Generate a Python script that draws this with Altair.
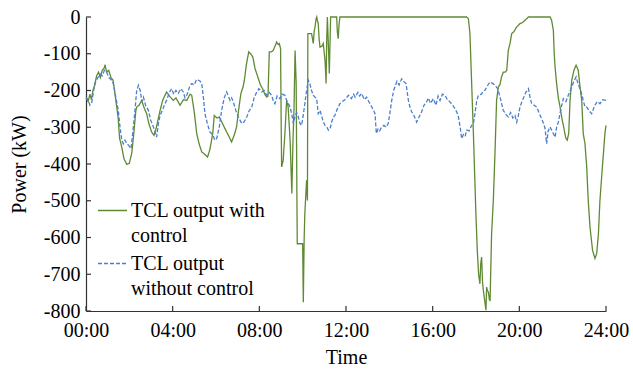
import altair as alt
import pandas as pd

# ---- data ----
with_hours = [0.00,0.10,0.18,0.25,0.32,0.40,0.49,0.58,0.66,0.75,0.83,0.88,0.95,1.05,1.15,1.25,1.35,1.48,1.55,1.65,1.75,1.88,2.00,2.11,2.20,2.30,2.34,2.45,2.57,2.70,2.80,2.90,3.03,3.14,3.25,3.42,3.55,3.72,3.85,4.03,4.15,4.34,4.50,4.65,4.80,4.88,5.00,5.11,5.22,5.34,5.45,5.61,5.72,5.85,5.92,6.05,6.15,6.30,6.49,6.60,6.72,6.85,6.95,7.05,7.15,7.25,7.31,7.40,7.51,7.60,7.70,7.80,7.93,8.05,8.15,8.25,8.34,8.40,8.46,8.55,8.64,8.72,8.80,8.87,8.92,8.98,9.01,9.03,9.10,9.18,9.26,9.33,9.42,9.50,9.55,9.60,9.65,9.70,9.73,9.75,10.00,10.03,10.07,10.10,10.18,10.22,10.24,10.41,10.49,10.53,10.57,10.62,10.65,10.68,10.72,10.76,10.80,10.88,10.95,11.00,11.03,11.06,11.08,11.11,11.14,11.20,11.23,11.27,11.29,11.57,11.60,11.64,11.68,11.72,17.57,17.65,17.72,17.80,17.88,17.95,18.00,18.06,18.12,18.18,18.22,18.26,18.30,18.34,18.42,18.46,18.49,18.53,18.57,18.62,18.65,18.72,18.80,18.88,18.95,19.03,19.10,19.18,19.26,19.35,19.42,19.49,19.57,19.65,19.75,19.88,20.03,20.15,20.26,20.42,21.42,21.49,21.57,21.61,21.65,21.72,21.80,21.88,21.98,22.05,22.10,22.15,22.21,22.28,22.34,22.42,22.52,22.62,22.72,22.80,22.88,22.95,23.03,23.11,23.18,23.26,23.38,23.49,23.57,23.65,23.72,23.80,23.88,23.95,24.00]
with_power = [-220,-230,-210,-225,-200,-185,-160,-150,-165,-145,-140,-130,-150,-145,-165,-172,-215,-272,-330,-354,-385,-401,-398,-371,-320,-255,-245,-240,-227,-250,-263,-290,-313,-322,-300,-254,-225,-204,-215,-227,-220,-240,-225,-227,-210,-213,-260,-317,-345,-367,-372,-381,-360,-317,-268,-275,-272,-290,-313,-325,-340,-320,-299,-250,-208,-190,-172,-130,-95,-100,-109,-140,-163,-185,-195,-210,-218,-215,-95,-95,-91,-80,-68,-75,-72,-86,-300,-408,-390,-317,-227,-245,-335,-480,-344,-250,-91,-181,-450,-617,-617,-776,-600,-535,-444,-499,-45,-45,-72,-40,-27,-5,0,-10,-18,-60,-82,-80,-72,-100,-118,-150,-181,-60,0,-100,-154,-50,0,0,-40,-59,-20,0,0,-5,-45,-181,-317,-450,-544,-635,-700,-726,-670,-653,-720,-744,-780,-798,-735,-745,-748,-770,-771,-590,-499,-363,-227,-190,-185,-163,-150,-150,-145,-91,-72,-45,-40,-27,-18,-15,-9,0,0,-9,-36,-100,-136,-181,-220,-245,-281,-300,-317,-330,-335,-317,-227,-172,-145,-131,-145,-190,-227,-317,-345,-408,-499,-571,-635,-657,-644,-590,-499,-435,-372,-317,-295]

without_hours = [0.00,0.10,0.18,0.26,0.35,0.45,0.57,0.65,0.75,0.85,0.95,1.05,1.15,1.26,1.35,1.49,1.57,1.65,1.72,1.80,1.88,1.98,2.08,2.15,2.26,2.34,2.42,2.50,2.58,2.65,2.75,2.88,2.98,3.11,3.18,3.26,3.34,3.42,3.55,3.65,3.72,3.85,3.95,4.05,4.15,4.26,4.38,4.49,4.57,4.65,4.78,4.88,5.00,5.10,5.19,5.27,5.34,5.42,5.49,5.60,5.72,5.85,5.95,6.03,6.15,6.26,6.38,6.49,6.57,6.65,6.72,6.80,6.92,7.03,7.10,7.19,7.30,7.42,7.53,7.65,7.76,7.88,7.98,8.11,8.22,8.34,8.45,8.57,8.65,8.72,8.82,8.95,9.05,9.18,9.28,9.42,9.50,9.57,9.65,9.72,9.80,9.88,9.95,10.02,10.10,10.18,10.26,10.33,10.41,10.49,10.57,10.65,10.72,10.80,10.88,10.95,11.03,11.12,11.19,11.26,11.34,11.42,11.49,11.60,11.72,11.80,11.95,12.11,12.25,12.35,12.42,12.55,12.63,12.72,12.85,12.95,13.05,13.19,13.28,13.34,13.40,13.48,13.55,13.65,13.75,13.85,13.95,14.03,14.11,14.20,14.26,14.35,14.45,14.57,14.65,14.77,14.88,14.95,15.03,15.15,15.26,15.35,15.49,15.60,15.72,15.80,15.90,16.03,16.15,16.25,16.34,16.45,16.57,16.68,16.80,16.92,17.03,17.12,17.19,17.27,17.34,17.42,17.50,17.57,17.68,17.80,17.88,17.95,18.03,18.11,18.25,18.35,18.42,18.55,18.65,18.75,18.88,19.00,19.11,19.20,19.26,19.38,19.49,19.60,19.70,19.80,19.88,19.95,20.03,20.12,20.18,20.30,20.42,20.50,20.57,20.68,20.80,20.92,21.03,21.12,21.19,21.26,21.33,21.42,21.55,21.65,21.72,21.80,21.92,22.03,22.15,22.26,22.35,22.42,22.52,22.62,22.70,22.80,22.88,22.95,23.03,23.11,23.22,23.34,23.42,23.49,23.60,23.72,23.85,24.00]
without_power = [-218,-225,-240,-235,-200,-175,-163,-155,-160,-145,-150,-165,-170,-181,-210,-254,-300,-335,-345,-335,-344,-350,-358,-320,-254,-200,-186,-200,-230,-218,-240,-254,-280,-299,-310,-327,-290,-268,-250,-235,-227,-205,-195,-210,-200,-208,-195,-204,-220,-213,-190,-181,-185,-170,-172,-175,-181,-220,-263,-290,-313,-320,-335,-331,-300,-254,-220,-204,-215,-227,-220,-231,-255,-272,-280,-290,-285,-272,-255,-245,-220,-204,-195,-204,-200,-213,-205,-213,-230,-236,-215,-222,-210,-213,-230,-245,-265,-290,-270,-260,-272,-290,-295,-270,-236,-200,-172,-181,-200,-213,-218,-225,-263,-254,-270,-285,-295,-300,-308,-305,-285,-272,-268,-250,-236,-231,-225,-213,-222,-210,-218,-205,-215,-208,-225,-218,-230,-245,-255,-263,-317,-305,-310,-299,-295,-300,-290,-260,-227,-200,-190,-175,-185,-168,-175,-181,-227,-245,-258,-270,-286,-275,-258,-240,-231,-220,-235,-222,-240,-215,-227,-210,-213,-225,-231,-240,-249,-260,-272,-300,-331,-320,-325,-308,-310,-295,-290,-263,-230,-213,-210,-200,-199,-185,-177,-180,-186,-195,-218,-240,-254,-265,-272,-260,-275,-268,-286,-270,-245,-230,-222,-205,-195,-220,-236,-240,-245,-262,-277,-290,-304,-345,-310,-299,-315,-327,-300,-286,-250,-222,-230,-213,-200,-190,-175,-163,-180,-195,-210,-227,-245,-245,-255,-263,-250,-240,-230,-236,-225,-227]

series_names = ["TCL output with|control", "TCL output|without control"]
series_colors = ["#5f8a33", "#4a7fcb"]
series_dashes = [[1, 0], [4, 2]]
x_ticks = [0, 4, 8, 12, 16, 20, 24]
y_ticks = [0, -100, -200, -300, -400, -500, -600, -700, -800]

rows = []
for i, (h, p) in enumerate(zip(with_hours, with_power)):
    rows.append({"hour": h, "power": p, "series": series_names[0], "order": i})
for i, (h, p) in enumerate(zip(without_hours, without_power)):
    rows.append({"hour": h, "power": p, "series": series_names[1], "order": i})
df = pd.DataFrame(rows)

FONT = "Liberation Serif"
W, H = 520, 294

xscale = alt.Scale(domain=[0, 24], nice=False, zero=False)
yscale = alt.Scale(domain=[-800, 0], nice=False)
xaxis = alt.Axis(values=x_ticks, title="Time", grid=False, tickSize=0,
                 labelExpr="(datum.value < 10 ? '0' : '') + datum.value + ':00'",
                 labelPadding=9, titlePadding=7, labelFlush=False, labelOverlap=False)
yaxis = alt.Axis(values=y_ticks, title="Power (kW)", grid=False, tickSize=0,
                 labelExpr="datum.value + ''", labelPadding=6, titlePadding=14,
                 labelOverlap=False)

lines = alt.Chart(df).mark_line(strokeWidth=1.3, interpolate="linear").encode(
    x=alt.X("hour:Q", scale=xscale, axis=xaxis),
    y=alt.Y("power:Q", scale=yscale, axis=yaxis),
    color=alt.Color("series:N", scale=alt.Scale(domain=series_names, range=series_colors), legend=None),
    strokeDash=alt.StrokeDash("series:N", scale=alt.Scale(domain=series_names, range=series_dashes),
                              legend=None),
    order="order:Q",
)

xt = pd.DataFrame({"hour": x_ticks})
yt = pd.DataFrame({"power": y_ticks})
xtick_rules = alt.Chart(xt).mark_rule(color="#333", strokeWidth=1.2).encode(
    x=alt.X("hour:Q", scale=xscale, axis=xaxis), y=alt.value(H - 5), y2=alt.value(H))
ytick_rules = alt.Chart(yt).mark_rule(color="#333", strokeWidth=1.2).encode(
    y=alt.Y("power:Q", scale=yscale, axis=yaxis), x=alt.value(0), x2=alt.value(5))

# ---- hand-built legend (symbol aligned with the first label line) ----
legend_layers = []
legend_rows_y = [193.5, 246.5]
for name, col, dash, ly in zip(series_names, series_colors, series_dashes, legend_rows_y):
    ldf = pd.DataFrame({"label": [name]})
    sym = alt.Chart(ldf).mark_rule(color=col, strokeWidth=1.3, strokeDash=dash).encode(
        x=alt.value(12), x2=alt.value(41), y=alt.value(ly))
    txt = alt.Chart(ldf).mark_text(align="left", baseline="middle", font=FONT, fontSize=20,
                                   color="black", lineBreak="|", lineHeight=25).encode(
        text="label:N", x=alt.value(45), y=alt.value(ly))
    legend_layers += [sym, txt]

chart = alt.layer(lines, xtick_rules, ytick_rules, *legend_layers).properties(
    width=W, height=H,
    autosize=alt.AutoSizeParams(type="none"),
    padding={"left": 86, "top": 17, "right": 27, "bottom": 59},
).configure_view(stroke=None).configure_axis(
    labelFont=FONT, titleFont=FONT, labelFontSize=20, titleFontSize=20,
    labelColor="black", titleColor="black", titleFontWeight="normal",
    domainColor="#333", domainWidth=1.2,
)

chart.save("out.html", embed_options={"renderer": "svg", "actions": False})
